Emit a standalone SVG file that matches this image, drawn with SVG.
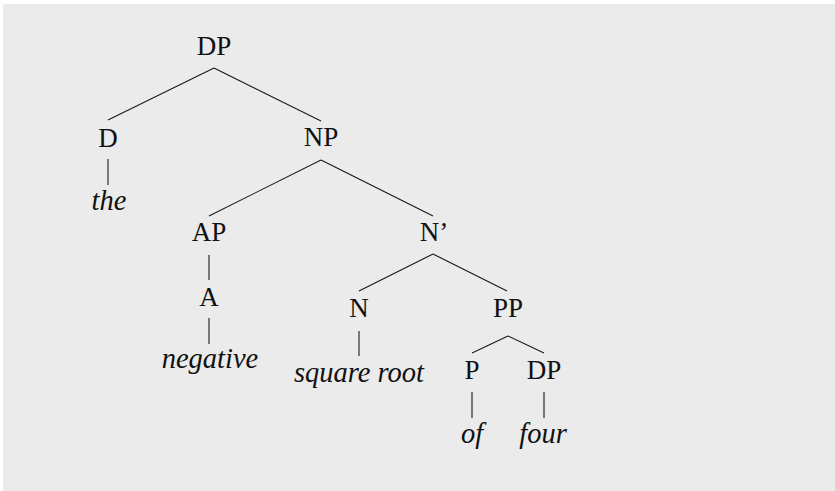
<svg xmlns="http://www.w3.org/2000/svg" width="835" height="491" viewBox="0 0 835 491">
<style>
text{font-family:"Liberation Serif","Times New Roman",serif;font-size:27px;fill:#111;text-anchor:middle}
.w{font-style:italic;font-size:28.5px}
#edges line{stroke:#1a1a1a;stroke-width:1.1}
</style>
<rect x="3" y="4" width="832" height="487" fill="#ebebeb"/>
<g id="edges">
<line x1="214" y1="68" x2="108" y2="120"/>
<line x1="214" y1="68" x2="321" y2="121"/>
<line x1="108" y1="159" x2="108" y2="185"/>
<line x1="321" y1="160" x2="209" y2="216"/>
<line x1="321" y1="160" x2="433" y2="216"/>
<line x1="209" y1="255" x2="209" y2="280"/>
<line x1="209" y1="318" x2="209" y2="344"/>
<line x1="433" y1="254" x2="359" y2="291"/>
<line x1="433" y1="254" x2="507" y2="291"/>
<line x1="359" y1="331" x2="359" y2="356"/>
<line x1="508" y1="336" x2="472" y2="353"/>
<line x1="508" y1="336" x2="544" y2="353"/>
<line x1="472" y1="392" x2="472" y2="418"/>
<line x1="544" y1="392" x2="544" y2="418"/>
</g>
<g id="n-dp"><text x="214" y="55">DP</text></g>
<g id="n-d"><text x="108" y="147">D</text></g>
<g id="n-the"><text class="w" x="109" y="210">the</text></g>
<g id="n-np"><text x="321" y="146">NP</text></g>
<g id="n-ap"><text x="209" y="241">AP</text></g>
<g id="n-a"><text x="209" y="306">A</text></g>
<g id="n-negative"><text class="w" x="210" y="368">negative</text></g>
<g id="n-nbar"><text x="434" y="241">N’</text></g>
<g id="n-n"><text x="359" y="317">N</text></g>
<g id="n-squareroot"><text class="w" x="359" y="382">square root</text></g>
<g id="n-pp"><text x="508" y="317">PP</text></g>
<g id="n-p"><text x="472" y="379">P</text></g>
<g id="n-dp2"><text x="544" y="379">DP</text></g>
<g id="n-of"><text class="w" x="472" y="443">of</text></g>
<g id="n-four"><text class="w" x="543" y="443">four</text></g>
</svg>
